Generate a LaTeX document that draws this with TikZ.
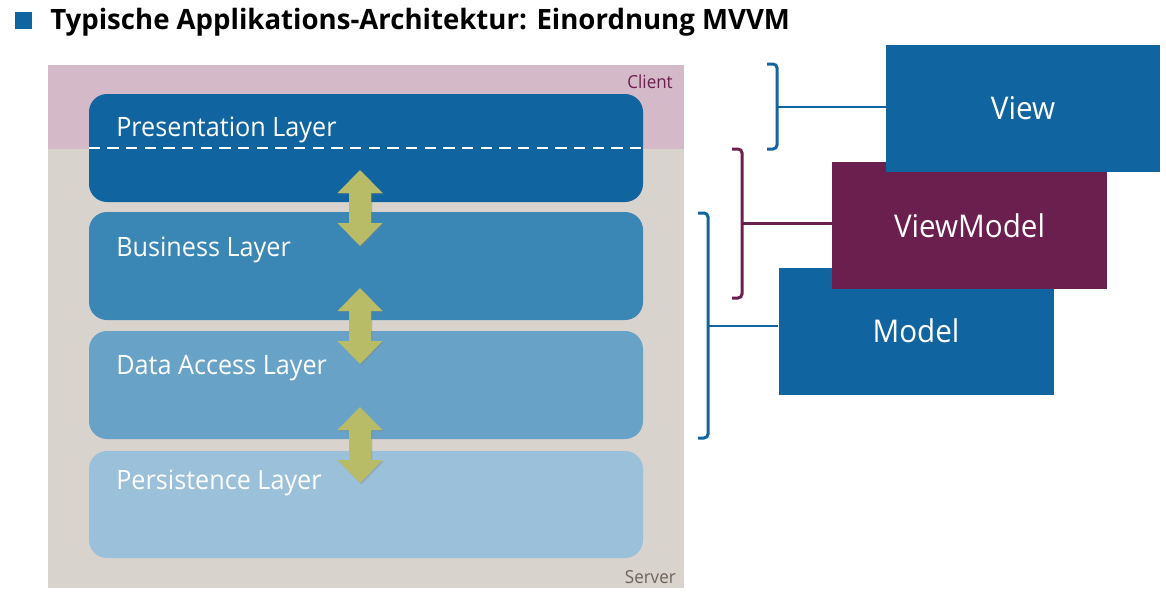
\documentclass[tikz,border=0pt]{standalone}
\usepackage{fontspec}
\setmainfont{Open Sans}
\newfontfamily\narrowfont[FakeStretch=0.945]{Open Sans}
\newfontfamily\titlefont[FakeStretch=0.985]{Open Sans}
\usetikzlibrary{shadows}
\definecolor{darkblue}{HTML}{1065A0}
\definecolor{bizblue}{HTML}{3A86B5}
\definecolor{datablue}{HTML}{68A3C7}
\definecolor{persblue}{HTML}{9BC0DA}
\definecolor{clientbg}{HTML}{D4B9C8}
\definecolor{serverbg}{HTML}{D8D3CD}
\definecolor{vmpurple}{HTML}{6B1F4E}
\definecolor{arrowgreen}{HTML}{B9BC66}
\definecolor{servertext}{HTML}{6E6259}
\tikzset{
  layer/.style={rounded corners=13.5pt, inner sep=0pt, minimum width={554*0.75pt}},
  layertext/.style={anchor=base west, text=white, font=\narrowfont\fontsize{20}{24}\selectfont, inner sep=0pt},
  mvbox/.style={inner sep=0pt, minimum width={275*0.75pt}, minimum height={127*0.75pt}, text=white, font=\narrowfont\fontsize{23.5}{28}\selectfont},
  zonelabel/.style={anchor=base east, inner sep=0pt, font=\narrowfont\fontsize{13.5}{16}\selectfont},
  bracket/.style={line width=2.25pt, rounded corners=3pt},
  link/.style={line width=2pt},
  arrowshape/.style={fill=arrowgreen, drop shadow={opacity=0.35, shadow xshift=1pt, shadow yshift=-1pt}},
}
\newcommand{\dblarrow}[2]{%
  \path[arrowshape] (#1,#2) ++(0,-38) -- ++(22.5,23) -- ++(-11.5,0) -- ++(0,30) -- ++(11.5,0)
     -- ++(-22.5,23) -- ++(-22.5,-23) -- ++(11.5,0) -- ++(0,-30) -- ++(-11.5,0) -- cycle;}
\begin{document}
\begin{tikzpicture}[x=0.75pt, y=-0.75pt]
\useasboundingbox (0,0) rectangle (1166,596);
% title
\fill[darkblue] (15,12) rectangle (32,29);
\node[anchor=base west, inner sep=0pt, font=\titlefont\fontsize{21}{25}\selectfont\bfseries] (title) at (50,29) {Typische Applikations-Architektur: Einordnung MVVM};
% background areas
\fill[clientbg] (48,65) rectangle (684,149);
\fill[serverbg] (48,149) rectangle (684,588);
\node[zonelabel, text=vmpurple] (client) at (673,88) {Client};
\node[zonelabel, text=servertext] (server) at (676,583) {Server};
% layers
\node[layer, fill=darkblue, minimum height={108*0.75pt}] (pres) at (366,148) {};
\node[layer, fill=bizblue, minimum height={108*0.75pt}] (biz) at (366,266) {};
\node[layer, fill=datablue, minimum height={108*0.75pt}] (data) at (366,385) {};
\node[layer, fill=persblue, minimum height={107*0.75pt}] (pers) at (366,504.5) {};
\draw[white, line width=2pt, dash pattern=on 8.5pt off 5.5pt] (pres.west |- 0,148) -- (pres.east |- 0,148);
\node[layertext] (prest) at (116,136) {Presentation Layer};
\node[layertext] (bizt) at (116,256) {Business Layer};
\node[layertext] (datat) at (116,374) {Data Access Layer};
\node[layertext] (perst) at (116,489) {Persistence Layer};
% arrows
\dblarrow{360}{208}
\dblarrow{360}{326}
\dblarrow{360}{445}
% MVVM boxes
\node[mvbox, fill=darkblue] (model) at (916,331) {Model};
\node[mvbox, fill=vmpurple] (vm) at (969.5,225.5) {ViewModel};
\node[mvbox, fill=darkblue, minimum width={274*0.75pt}] (view) at (1023,108.5) {View};
% brackets
\coordinate (bv) at (777,107);
\coordinate (bvm) at (742,223.5);
\coordinate (bm) at (708,326);
\draw[bracket, darkblue] (767,64) -- (777,64) -- (777,149) -- (767,149);
\draw[link, darkblue] (bv) -- (bv -| view.west);
\draw[bracket, vmpurple] (732,149) -- (742,149) -- (742,298) -- (732,298);
\draw[link, vmpurple] (bvm) -- (bvm -| vm.west);
\draw[bracket, darkblue] (698,213) -- (708,213) -- (708,438) -- (698,438);
\draw[link, darkblue] (bm) -- (bm -| model.west);
\end{tikzpicture}
\end{document}
